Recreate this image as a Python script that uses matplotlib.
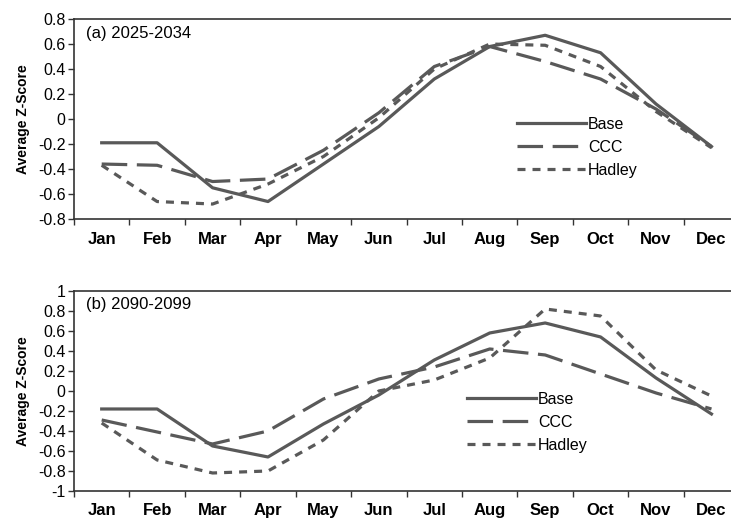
import matplotlib
matplotlib.use("Agg")
import matplotlib.pyplot as plt

months = ["Jan", "Feb", "Mar", "Apr", "May", "Jun",
          "Jul", "Aug", "Sep", "Oct", "Nov", "Dec"]

# (a) 2025-2034
base_a = [-0.19, -0.19, -0.55, -0.66, -0.36, -0.06, 0.32, 0.58, 0.67, 0.53, 0.12, -0.22]
ccc_a = [-0.36, -0.37, -0.50, -0.48, -0.25, 0.05, 0.42, 0.58, 0.46, 0.32, 0.08, -0.22]
hadley_a = [-0.37, -0.66, -0.68, -0.52, -0.30, 0.01, 0.40, 0.60, 0.59, 0.42, 0.06, -0.23]

# (b) 2090-2099
base_b = [-0.18, -0.18, -0.55, -0.66, -0.33, -0.04, 0.31, 0.58, 0.68, 0.54, 0.13, -0.23]
ccc_b = [-0.29, -0.41, -0.53, -0.40, -0.08, 0.12, 0.24, 0.42, 0.36, 0.17, -0.02, -0.18]
hadley_b = [-0.32, -0.69, -0.82, -0.80, -0.49, 0.00, 0.11, 0.33, 0.82, 0.75, 0.21, -0.05]

panels = [
    ("(a) 2025-2034", base_a, ccc_a, hadley_a, (-0.8, 0.8),
     [-0.8, -0.6, -0.4, -0.2, 0, 0.2, 0.4, 0.6, 0.8], (0.666, 0.51)),
    ("(b) 2090-2099", base_b, ccc_b, hadley_b, (-1, 1),
     [-1, -0.8, -0.6, -0.4, -0.2, 0, 0.2, 0.4, 0.6, 0.8, 1], (0.591, 0.495)),
]

LINE = "#595959"
sans = ["Liberation Sans", "DejaVu Sans"]


def fmt(v):
    return "0" if v == 0 else ("%g" % v)


fig = plt.figure(figsize=(7.31, 5.24), dpi=100)
rects = [[0.1012, 0.582, 0.91, 0.3817], [0.1012, 0.063, 0.91, 0.3817]]

x = [i + 0.5 for i in range(12)]
for rect, (title, base, ccc, hadley, ylim, yt, legpos) in zip(rects, panels):
    ax = fig.add_axes(rect)
    ax.plot(x, base, color=LINE, lw=2.3, label="Base")
    ax.plot(x, ccc, color=LINE, lw=2.3, dashes=(8, 3), label="CCC")
    ax.plot(x, hadley, color=LINE, lw=2.3, dashes=(2.5, 2.2), label="Hadley")
    ax.set_xlim(0, 12)
    ax.set_ylim(*ylim)
    ax.set_yticks(yt)
    ax.set_yticklabels([fmt(v) for v in yt], family=sans, fontsize=11.5)
    ax.set_xticks(range(13))
    ax.set_xticklabels([])
    ax.set_xticks(x, minor=True)
    ax.set_xticklabels(months, minor=True, fontweight="bold", fontsize=12,
                       family=sans)
    ax.tick_params(axis="x", which="minor", length=0, pad=9)
    ax.tick_params(axis="both", which="major", length=4, width=1, color="#333333")
    ax.tick_params(axis="y", pad=2)
    for s in ax.spines.values():
        s.set_color("#333333")
        s.set_linewidth(1.2)
    ax.spines["right"].set_visible(False)
    ax.set_ylabel("Average Z-Score", fontweight="bold", fontsize=10,
                  family=sans, labelpad=6)
    ax.text(0.018, 0.93, title, transform=ax.transAxes, fontsize=12,
            family=sans, va="center", ha="left")
    ax.legend(loc="upper left", bbox_to_anchor=legpos, frameon=False,
              handlelength=4.3, handletextpad=0.15, labelspacing=0.5,
              borderpad=0, borderaxespad=0,
              prop={"family": sans, "size": 11.5})

fig.savefig("out.png", dpi=100)
